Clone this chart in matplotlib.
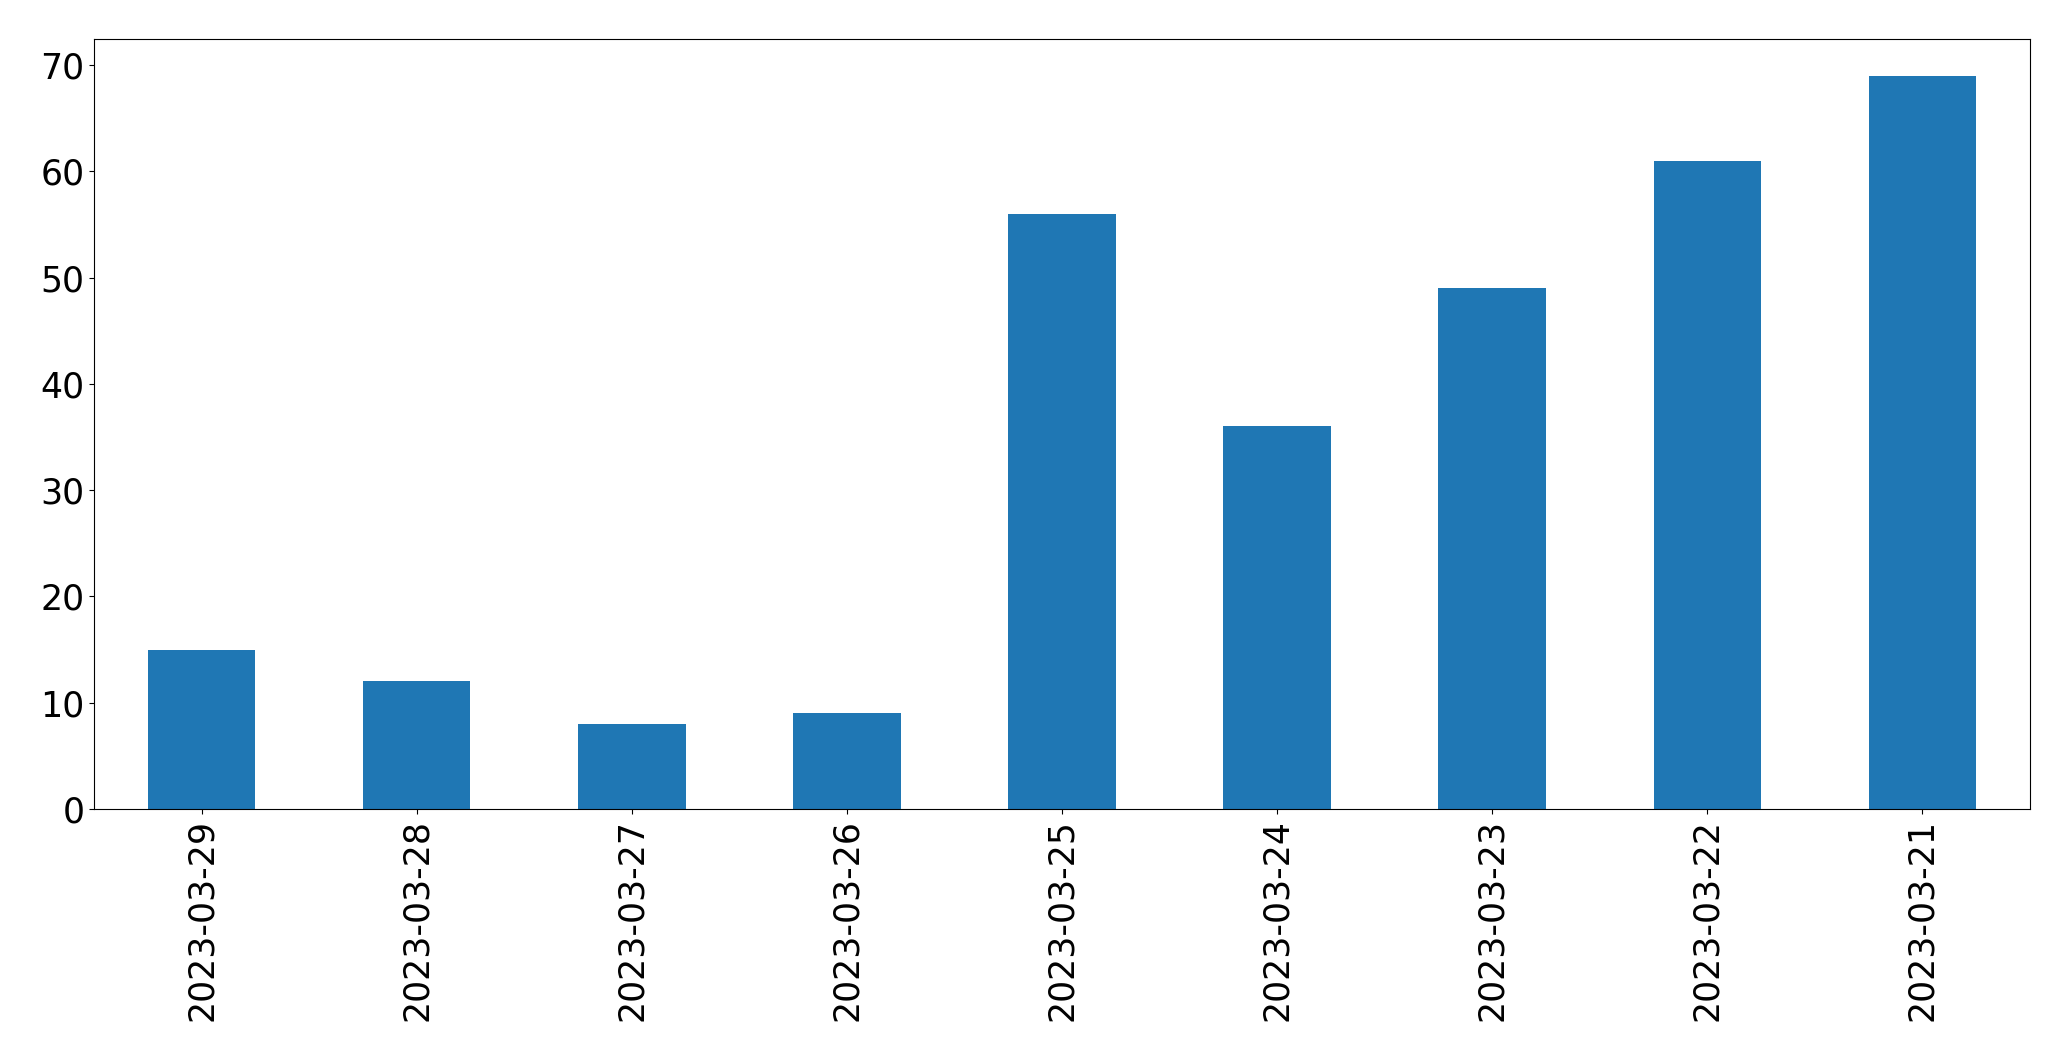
#!/usr/bin/env python3

import pandas as pd
import matplotlib
matplotlib.use("Agg")
import matplotlib.pyplot as plt

dates = ["2023-03-29", "2023-03-28", "2023-03-27", "2023-03-26", "2023-03-25",
         "2023-03-24", "2023-03-23", "2023-03-22", "2023-03-21"]
counts = [15, 12, 8, 9, 56, 36, 49, 61, 69]

s = pd.Series(counts, index=dates)

fig = plt.figure(figsize=(20.71, 10.61), dpi=100)
ax = fig.add_axes([94 / 2071, 1 - 809 / 1061, (2030 - 94) / 2071, (809 - 39) / 1061])
s.plot(kind="bar", ax=ax, fontsize=25)

fig.savefig("out.png", dpi=100)
